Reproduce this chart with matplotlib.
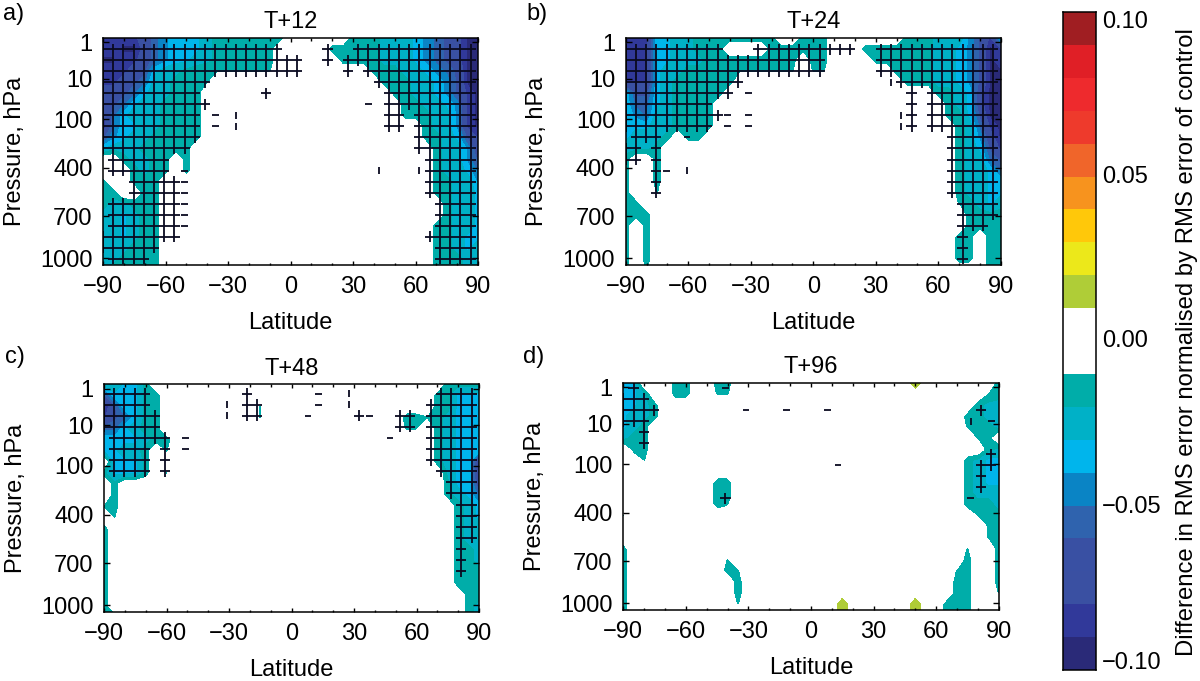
import numpy as np
import matplotlib
matplotlib.use("Agg")
import matplotlib.pyplot as plt
from matplotlib.colors import ListedColormap, BoundaryNorm
from matplotlib.ticker import MultipleLocator, FixedLocator

plt.rcParams['font.family'] = ['Liberation Sans', 'DejaVu Sans']

W, H = 1200, 681

# colour classes: boundaries from -0.10 to 0.10 in steps of 0.01
bounds = np.round(np.arange(-0.10, 0.1001, 0.01), 2)
colours = ['#2a2a78', '#31399a', '#3a50a2', '#3950a3', '#2f63ae', '#0a84c5', '#00b5ec',
           '#00b1c7', '#00ada9', '#ffffff', '#ffffff', '#afcd37', '#ece81a', '#ffc80a',
           '#f7931e', '#f0652a', '#ee3a2c', '#ee2a2d', '#e01f26', '#a01e22']

titles = ['T+12', 'T+24', 'T+48', 'T+96']
tags = ['a)', 'b)', 'c)', 'd)']
xticks_lat = [-90, -60, -30, 0, 30, 60, 90]
ytick_labels = ['1', '10', '100', '400', '700', '1000']
ytick_rows = [0.39, 3.7, 7.35, 11.76, 16.15, 19.94]

# Values by model level (22 rows, top to bottom) and latitude (37 columns, 5 deg).
# Symbols: '.' no change, 'a' weak teal, 1-9 = magnitude class of the reduction, 'g' small increase.
# 'left|right' : the gap between both parts is '.'.
vals_a = [
 "888875433321111111|1112223456799",
 "88997543332111111|111112223456799",
 "99887543322111111|11112223456799",
 "8887632211aaaaaaa|11122345699",
 "8876522111a|1112234699",
 "7765322111|112234689",
 "7653221111|11223489",
 "8532221111|11122489",
 "9533221111|122489",
 "6432211111|112368",
 "322211111|12247",
 "..12211.1|12246",
 "...1211.1|12235",
 "1..111|11224",
 "11..11|11223",
 "122111|1223",
 "223211|1223",
 "223211|11223",
 "223211|11233",
 "222111|11232",
 "221111|11122",
 "211111|11122",
]
vals_b = [
 "888332211111111..111|1112224683",
 "8883322111....111111|11111112234698",
 "88833222111111111.11|1111112234698",
 "88832211aaaaaaaaa.aa|11112234699",
 "88832111111|1112234699",
 "3663211111|1123799",
 "355321111|123799",
 "345221111|113699",
 "333221111|12589",
 "32221.11|12479",
 "2221|12368",
 "1..1|12256",
 "1..1|12235",
 "1..1|12233",
 "1..a|12233",
 "11|a1232",
 "a11|1111",
 "1.1|1111",
 "1.1|11.11",
 "1.1|11.11",
 "1.1|11.11",
 "1.a|...11",
]
vals_c = [
 "22331|1111",
 "633311|11333",
 "963311.........a|11333",
 "865311.........a|11a12333",
 "553211|aa.12333",
 "3333211|12333",
 "33221.a|12333",
 ".3331|12338",
 "13331.a|2338",
 ".1|1337",
 ".1|1235",
 "a1|123",
 ".a|123",
 "1|122",
 "1|122",
 "1|112",
 "1|112",
 "1|111",
 "1|111",
 "1|11",
 "1|12",
 "11|12",
]
vals_d = [
 "33...11..11|g.......1",
 "332..11..aa|a1",
 "3321|122",
 "3221|1122",
 "321|a112",
 "211|a1.",
 ".11|12",
 "..a|1233",
 "|1233",
 ".........11|1233",
 ".........11|1222",
 ".........1a|1112",
 "a|a11",
 "|a1",
 "|a1",
 "1|a..1",
 "1.........a|1..1",
 "1.........1a|a1..1",
 "1..........1|11..1",
 "1..........1|11..a",
 "1..........a|g......g..111...",
 "1|g......g..111...",
]

# Significance marks: for each hatch row, spans (first, last) of hatch columns, crosses
# by default, with a third item '-' or '|' when only a short dash shows there.
sig_a = [[], [(0,17),(22,22),(25,36)], [(0,19),(22,22),(24,36)], [(0,19),(24,24),(26,36)],
 [(0,10),(27,36)], [(0,9),(16,16),(28,36)], [(0,10),(26,26,'-'),(28,36)],
 [(0,9),(11,11,'-'),(13,13,'|'),(28,29),(31,36)], [(0,9),(11,11,'-'),(13,13,'|'),(28,29),(31,36)],
 [(0,9),(31,36)], [(0,8),(31,36)], [(1,6),(32,36)], [(1,6),(8,8,'-'),(27,27,'|'),(31,31,'|'),(32,36)],
 [(3,5),(6,7),(8,8,'-'),(32,36)], [(3,7),(8,8,'-'),(32,36)], [(1,7),(8,8,'-'),(33,36)],
 [(1,7),(8,8,'-'),(33,36)], [(1,7),(8,8,'-'),(33,36)],
 [(0,7),(32,36)], [(0,5),(33,36)], [(1,4),(33,36)]]
sig_b = [[], [(0,9),(13,22),(25,36)], [(0,19),(25,36)], [(0,17),(18,19),(25,36)],
 [(0,11),(26,26,'|'),(27,36)], [(0,10),(12,12,'-'),(28,28),(30,36)], [(0,8),(28,28),(30,36)],
 [(0,9),(10,10,'-'),(12,12,'-'),(27,27,'|'),(28,28),(30,36)],
 [(0,8),(10,10,'-'),(12,12,'-'),(27,27,'|'),(28,28),(30,36)],
 [(1,3),(6,6,'-'),(32,36)], [(0,1),(3,3),(32,36)], [(0,1),(3,3),(32,36)], [(3,3),(4,4,'-'),(6,6,'|'),(32,36)],
 [(3,3),(32,36)], [(3,3),(32,36)], [(33,36)], [(33,36)], [(33,35)], [(33,33)], [(33,33)], [(33,33)]]
sig_c = [[], [(0,4),(14,14),(21,21,'-'),(24,24,'|'),(33,36)], [(0,4),(12,12,'|'),(14,15),(21,21,'-'),(24,24,'|'),(32,36)],
 [(0,5),(12,12,'|'),(14,15),(20,20,'-'),(25,25),(26,26,'-'),(29,30),(32,36)], [(0,5),(29,30),(32,36)],
 [(1,6),(8,8,'-'),(28,28,'-'),(32,36)], [(1,4),(6,6),(8,8,'-'),(32,36)], [(1,4),(6,6),(32,36)],
 [(1,4),(6,6),(33,36)], [(34,36)], [(34,36)], [(35,36)], [(35,36)], [(35,36)], [(35,36)],
 [(35,35)], [(35,35)], [(35,35)]]
sig_d = [[(1,1),(10,10,'-')], [(0,2)], [(0,3),(12,12,'-'),(16,16,'-'),(20,20,'-'),(35,35)],
 [(0,2),(34,34,'|'),(36,36,'-')], [(2,2)], [(2,2)], [(36,36)], [(21,21,'-'),(35,36)], [(35,35)], [(35,35)],
 [(10,10),(34,34,'-')]]


def parse(rows):
    table = {'.': 0.0, 'a': -0.012, 'g': 0.019, '1': -0.017}
    out = []
    for r in rows:
        left, right = r.split('|')
        s = left + '.' * (37 - len(left) - len(right)) + right
        out.append([table[c] if c in table else -(int(c) + 0.3) / 100 for c in s])
    return np.array(out)


panels = [
    (103, 478, 38, 265, vals_a, sig_a, 0.0),
    (625.7, 1000.7, 38, 265, vals_b, sig_b, 0.0),
    (104, 479, 384.3, 612, vals_c, sig_c, -0.15),
    (623.3, 998.7, 383, 610, vals_d, sig_d, 0.45),
]
tag_pos = [(3, 14), (526, 14), (5, 357), (523, 357)]
ylabel_px = [26, 548, 27, 546]

cmap = ListedColormap(colours)
norm = BoundaryNorm(bounds, cmap.N)
lats = np.arange(-90, 91, 5)
rows = np.arange(22)
hatch_step = 4.9
ink = '#0a0a20'

fig = plt.figure(figsize=(W / 100, H / 100), dpi=100)


def axes_px(x0, x1, y0, y1):
    return fig.add_axes([x0 / W, 1 - y1 / H, (x1 - x0) / W, (y1 - y0) / H])


for n, (x0, x1, y0, y1, v, sig, off) in enumerate(panels):
    ax = axes_px(x0, x1, y0, y1)
    ax.contourf(lats, rows, parse(v), levels=bounds, cmap=cmap, norm=norm)
    for j, spans in enumerate(sig):
        for span in spans:
            a, b = span[:2]
            kind = span[2] if len(span) > 2 else '+'
            half = 1.0 if kind == '+' else 0.65
            for k in range(a, b + 1):
                x = -90 + k * hatch_step
                y = j + off
                if kind in '+-':
                    ax.plot([x - half * hatch_step / 2, x + half * hatch_step / 2], [y, y], color=ink, lw=1.3, solid_capstyle='butt')
                if kind in '+|':
                    ax.plot([x, x], [y - half * 0.5, y + half * 0.5], color=ink, lw=1.3, solid_capstyle='butt')
    ax.set_xlim(-90, 90)
    ax.set_ylim(20.55, 0)
    ax.xaxis.set_major_locator(FixedLocator(xticks_lat))
    ax.xaxis.set_minor_locator(MultipleLocator(10))
    ax.set_yticks(ytick_rows)
    ax.set_yticklabels(ytick_labels)
    ax.set_xticklabels([str(t).replace('-', '\u2212') for t in xticks_lat])
    ax.tick_params(axis='x', which='major', direction='in', top=True, length=2.8, width=1.0, labelsize=17, pad=8)
    ax.tick_params(axis='x', which='minor', direction='in', top=True, length=1.8, width=1.0)
    ax.tick_params(axis='y', which='major', direction='in', right=True, length=4.5, width=1.0, labelsize=17, pad=7.6)
    ax.set_xlabel('Latitude', fontsize=17, labelpad=10)
    ax.set_ylabel('Pressure, hPa', fontsize=17, labelpad=8)
    ax.yaxis.set_label_coords((ylabel_px[n] - x0) / (x1 - x0), 0.5)
    ax.set_title(titles[n], fontsize=17, pad=7)
    for s in ax.spines.values():
        s.set_linewidth(1.1)
    fig.text(tag_pos[n][0] / W, 1 - tag_pos[n][1] / H, tags[n], fontsize=17, ha='left', va='center')

# colour bar
cax = axes_px(1063, 1096, 12, 670)
cax.pcolormesh([0, 1], bounds, np.array(bounds[:-1] + 0.005).reshape(-1, 1), cmap=cmap, norm=norm)
cax.set_xticks([])
cax.set_yticks([])
for s in cax.spines.values():
    s.set_linewidth(1.1)
cbar_labels = ['0.10', '0.05', '0.00', '\u22120.05', '\u22120.10']
cbar_label_px = [22, 177, 341, 507, 663]
for t, py in zip(cbar_labels, cbar_label_px):
    fig.text(1102 / W, 1 - py / H, t, fontsize=17, ha='left', va='center')
fig.text(1187 / W, 1 - 342 / H, 'Difference in RMS error normalised by RMS error of control',
         fontsize=17.2, rotation=90, ha='center', va='center')

fig.savefig('out.png', dpi=100)
